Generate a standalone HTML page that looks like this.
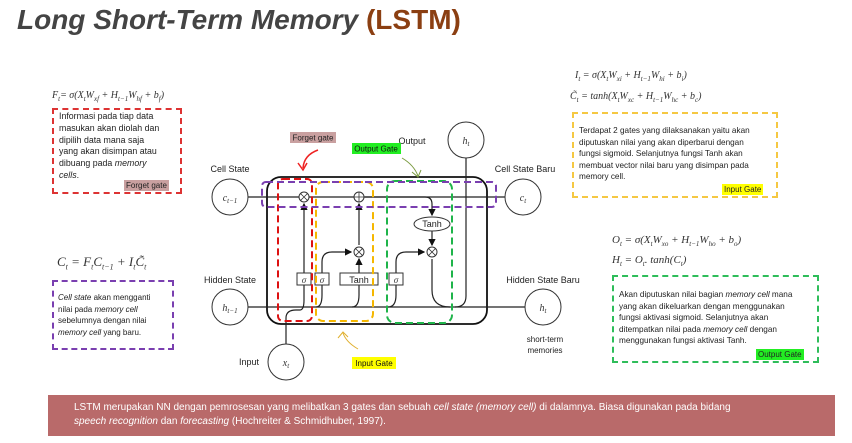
<!DOCTYPE html>
<html><head><meta charset="utf-8"><style>
body{margin:0;width:852px;height:443px;background:#fff;overflow:hidden;font-family:"Liberation Sans",sans-serif;position:relative}
.t{position:absolute;font-size:8.5px;line-height:12px;color:#222;white-space:nowrap}
.f{position:absolute;font-family:"Liberation Serif",serif;font-style:italic;font-size:10px;color:#333;white-space:nowrap}
.box{position:absolute;border:2px dashed}
</style></head><body>
<div style="position:absolute;left:17px;top:4px;font-size:28px;font-weight:bold;font-style:italic;color:#444;white-space:nowrap">Long Short-Term Memory <span style="color:#8b3f12;font-style:normal">(LSTM)</span></div>

<div class="f" style="left:52px;top:90px">F<sub style="font-size:7px">t</sub>= σ(X<sub style="font-size:7px">t</sub>W<sub style="font-size:7px">xf</sub> + H<sub style="font-size:7px">t−1</sub>W<sub style="font-size:7px">hf</sub> + b<sub style="font-size:7px">f</sub>)</div>
<div class="box" style="left:52px;top:108px;width:126px;height:82px;border-color:#d33"></div>
<div class="t" style="left:59px;top:111px;font-size:8.8px;line-height:11.8px">Informasi pada tiap data<br>masukan akan diolah dan<br>dipilih data mana saja<br>yang akan disimpan atau<br>dibuang pada <i>memory</i><br><i>cells</i>.</div>
<div class="t" style="left:124px;top:180px;background:#c9a0a0;font-size:8px;line-height:11px;padding:0 2px">Forget gate</div>

<div class="f" style="left:57px;top:254px;font-size:13px">C<sub style="font-size:8px">t</sub> = F<sub style="font-size:8px">t</sub>C<sub style="font-size:8px">t−1</sub> + I<sub style="font-size:8px">t</sub>C̃<sub style="font-size:8px">t</sub></div>
<div class="box" style="left:52px;top:280px;width:118px;height:66px;border-color:#7a3fb0"></div>
<div class="t" style="left:58px;top:292px;font-size:8px;line-height:11.5px"><i>Cell state</i> akan mengganti<br>nilai pada <i>memory cell</i><br>sebelumnya dengan nilai<br><i>memory cell</i> yang baru.</div>

<div class="f" style="left:575px;top:70px">I<sub style="font-size:7px">t</sub> = σ(X<sub style="font-size:7px">t</sub>W<sub style="font-size:7px">xi</sub> + H<sub style="font-size:7px">t−1</sub>W<sub style="font-size:7px">hi</sub> + b<sub style="font-size:7px">i</sub>)</div>
<div class="f" style="left:570px;top:91px">C̃<sub style="font-size:7px">t</sub> = tanh(X<sub style="font-size:7px">t</sub>W<sub style="font-size:7px">xc</sub> + H<sub style="font-size:7px">t−1</sub>W<sub style="font-size:7px">hc</sub> + b<sub style="font-size:7px">c</sub>)</div>
<div class="box" style="left:572px;top:112px;width:202px;height:82px;border-color:#f5c842"></div>
<div class="t" style="left:579px;top:125px;font-size:8.2px;line-height:11.6px">Terdapat 2 gates yang dilaksanakan yaitu akan<br>diputuskan nilai yang akan diperbarui dengan<br>fungsi sigmoid. Selanjutnya fungsi Tanh akan<br>membuat vector nilai baru yang disimpan pada<br>memory cell.</div>
<div class="t" style="left:722px;top:184px;background:#ffff00;font-size:8px;line-height:11px;padding:0 2px">Input Gate</div>

<div class="f" style="left:612px;top:234px;font-size:11px">O<sub style="font-size:7px">t</sub> = σ(X<sub style="font-size:7px">t</sub>W<sub style="font-size:7px">xo</sub> + H<sub style="font-size:7px">t−1</sub>W<sub style="font-size:7px">ho</sub> + b<sub style="font-size:7px">o</sub>)</div>
<div class="f" style="left:612px;top:254px;font-size:11px">H<sub style="font-size:7px">t</sub> = O<sub style="font-size:7px">t</sub>. tanh(C<sub style="font-size:7px">t</sub>)</div>
<div class="box" style="left:612px;top:275px;width:203px;height:84px;border-color:#2ebd5a"></div>
<div class="t" style="left:619px;top:289px;font-size:8.2px;line-height:11.6px">Akan diputuskan nilai bagian <i>memory cell</i> mana<br>yang akan dikeluarkan dengan menggunakan<br>fungsi aktivasi sigmoid. Selanjutnya akan<br>ditempatkan nilai pada <i>memory cell</i> dengan<br>menggunakan fungsi aktivasi Tanh.</div>
<div class="t" style="left:756px;top:349px;background:#22ee22;font-size:8px;line-height:11px;padding:0 2px">Output Gate</div>

<svg width="852" height="443" style="position:absolute;left:0;top:0" font-family="Liberation Sans, sans-serif">
<defs><marker id="a" markerWidth="6" markerHeight="6" refX="5" refY="3" orient="auto"><path d="M0,0L6,3L0,6z" fill="#111"/></marker></defs>
<rect x="267" y="177" width="220" height="147" rx="14" fill="none" stroke="#111" stroke-width="1.8"/>
<g stroke="#222" stroke-width="1.2" fill="none">
<line x1="248" y1="197" x2="505" y2="197"/>
<path d="M365,197 H425 Q432,197 432,204 V215" marker-end="url(#a)"/>
<line x1="432" y1="231" x2="432" y2="245" marker-end="url(#a)"/>
<line x1="248" y1="307" x2="525" y2="307"/>
<path d="M432,259 V290 Q432,307 450,307"/>
<path d="M466,158 V296 Q466,307 455,307"/>
<path d="M286,344 V318 Q286,310 296,310 H300 Q304,310 304,300 V285"/>
<line x1="304" y1="273" x2="304" y2="204" marker-end="url(#a)"/>
<path d="M316,307 Q322,307 322,295 V285"/>
<path d="M322,273 V262 Q322,252 332,252 H351" marker-end="url(#a)"/>
<path d="M352,307 Q359,307 359,295 V285"/>
<line x1="359" y1="273" x2="359" y2="259" marker-end="url(#a)"/>
<line x1="359" y1="245" x2="359" y2="204" marker-end="url(#a)"/>
<path d="M388,307 Q396,307 396,295 V285"/>
<path d="M396,273 V262 Q396,252 406,252 H424" marker-end="url(#a)"/>
</g>
<g fill="#fff" stroke="#333" stroke-width="1">
<circle cx="230" cy="197" r="18"/><circle cx="523" cy="197" r="18"/>
<circle cx="230" cy="307" r="18"/><circle cx="543" cy="307" r="18"/>
<circle cx="466" cy="140" r="18"/><circle cx="286" cy="362" r="18"/>
<circle cx="304" cy="197" r="5"/><circle cx="359" cy="197" r="5"/>
<circle cx="359" cy="252" r="5"/><circle cx="432" cy="252" r="5"/>
<ellipse cx="432" cy="224" rx="18" ry="7"/>
<rect x="297" y="273" width="14" height="12"/><rect x="315" y="273" width="14" height="12"/>
<rect x="340" y="273" width="38" height="12"/><rect x="389" y="273" width="14" height="12"/>
</g>
<g stroke="#333" stroke-width="0.8">
<path d="M300.5,193.5l7,7M307.5,193.5l-7,7M355.5,248.5l7,7M362.5,248.5l-7,7M428.5,248.5l7,7M435.5,248.5l-7,7M354,197h10M359,192v10"/>
</g>
<g font-family="Liberation Serif, serif" font-style="italic" font-size="10" fill="#333" text-anchor="middle">
<text x="230" y="201">c<tspan font-size="7" dy="2">t−1</tspan></text>
<text x="523" y="201">c<tspan font-size="7" dy="2">t</tspan></text>
<text x="230" y="311">h<tspan font-size="7" dy="2">t−1</tspan></text>
<text x="543" y="311">h<tspan font-size="7" dy="2">t</tspan></text>
<text x="466" y="144">h<tspan font-size="7" dy="2">t</tspan></text>
<text x="286" y="366">x<tspan font-size="7" dy="2">t</tspan></text>
<text x="304" y="283" font-size="9">σ</text><text x="322" y="283" font-size="9">σ</text><text x="396" y="283" font-size="9">σ</text>
</g>
<g font-size="9" fill="#222" text-anchor="middle">
<text x="359" y="283">Tanh</text><text x="432" y="227">Tanh</text>
<text x="230" y="172">Cell State</text><text x="525" y="172">Cell State Baru</text>
<text x="230" y="283">Hidden State</text><text x="543" y="283">Hidden State Baru</text>
<text x="412" y="144">Output</text><text x="249" y="365">Input</text>
<text x="545" y="342" font-size="8">short-term</text><text x="545" y="353" font-size="8">memories</text>
</g>
<g fill="none" stroke-width="2" stroke-dasharray="7,4">
<rect x="278" y="179" width="34" height="142" rx="5" stroke="#d11"/>
<rect x="316" y="182" width="57" height="139" rx="7" stroke="#f5b700"/>
<rect x="387" y="181" width="65" height="142" rx="8" stroke="#1fb44a"/>
<rect x="262" y="182" width="234" height="25" rx="4" stroke="#7a3fb0"/>
</g>
<rect x="290" y="132" width="46" height="11" fill="#c9a0a0"/><text x="313" y="140.5" font-size="8" text-anchor="middle" fill="#222">Forget gate</text>
<rect x="352" y="143" width="49" height="11" fill="#22ee22"/><text x="376" y="151.5" font-size="8" text-anchor="middle" fill="#111">Output Gate</text>
<rect x="352" y="357" width="44" height="12" fill="#ffff00"/><text x="374" y="366" font-size="8" text-anchor="middle" fill="#111">Input Gate</text>
<path d="M318,150 Q304,155 303,168" stroke="#e22" stroke-width="1.5" fill="none"/><path d="M298,163L303,170L307,163" stroke="#e22" stroke-width="1.5" fill="none"/>
<path d="M402,158 Q414,165 418,176" stroke="#7a9a40" stroke-width="1" fill="none"/><path d="M412,172L418,177L421,170" stroke="#7a9a40" stroke-width="1" fill="none"/>
<path d="M358,349 Q346,342 343,333" stroke="#e0b030" stroke-width="1" fill="none"/><path d="M338,338L343,332L348,337" stroke="#e0b030" stroke-width="1" fill="none"/>
</svg>

<div style="position:absolute;left:48px;top:395px;width:787px;height:41px;background:#b96a6a;color:#fff;font-size:10px;line-height:14px;box-sizing:border-box;padding:6px 0 0 26px">LSTM merupakan NN dengan pemrosesan yang melibatkan 3 gates dan sebuah <i>cell state (memory cell)</i> di dalamnya. Biasa digunakan pada bidang<br><i>speech recognition</i> dan <i>forecasting</i> (Hochreiter &amp; Schmidhuber, 1997).</div>
</body></html>
